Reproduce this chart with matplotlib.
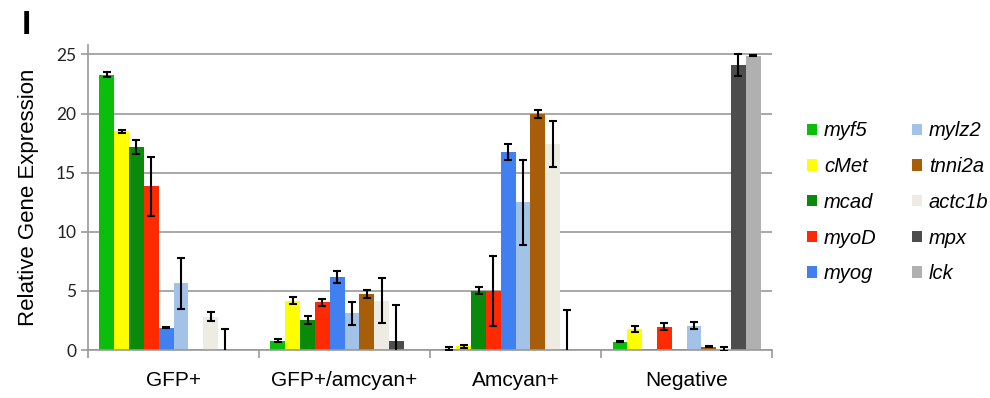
import matplotlib
matplotlib.use('Agg')
import matplotlib.pyplot as plt
import numpy as np

groups = ['GFP+', 'GFP+/amcyan+', 'Amcyan+', 'Negative']
genes = ['myf5', 'cMet', 'mcad', 'myoD', 'myog',
         'mylz2', 'tnni2a', 'actc1b', 'mpx', 'lck']
colors = ['#0ABE0A', '#FFFF00', '#0A8A0A', '#FF2A00', '#4080F0',
          '#A3C2E8', '#A85D08', '#EEEBE3', '#4D4D4D', '#B0B0B0']

# expression per gene, one value per group
means = {
    'myf5':   [23.3, 0.8, 0.1, 0.7],
    'cMet':   [18.5, 4.15, 0.3, 1.8],
    'mcad':   [17.2, 2.55, 5.0, 0.05],
    'myoD':   [13.85, 4.05, 5.0, 1.95],
    'myog':   [1.9, 6.2, 16.75, 0.05],
    'mylz2':  [5.65, 3.1, 12.5, 2.05],
    'tnni2a': [0.0, 4.75, 19.95, 0.28],
    'actc1b': [2.8, 4.15, 17.45, 0.1],
    'mpx':    [0.0, 0.8, 0.0, 24.1],
    'lck':    [0.0, 0.1, 0.0, 24.9],
}
errors = {
    'myf5':   [0.2, 0.1, 0.12, 0.06],
    'cMet':   [0.12, 0.3, 0.15, 0.25],
    'mcad':   [0.6, 0.35, 0.3, 0.0],
    'myoD':   [2.5, 0.3, 2.95, 0.3],
    'myog':   [0.05, 0.5, 0.65, 0.0],
    'mylz2':  [2.15, 1.0, 3.6, 0.3],
    'tnni2a': [0.0, 0.33, 0.35, 0.06],
    'actc1b': [0.38, 1.9, 1.95, 0.15],
    'mpx':    [1.8, 3.0, 3.35, 0.9],
    'lck':    [0.0, 0.0, 0.0, 0.05],
}

fig = plt.figure(figsize=(9.9, 3.98), dpi=100)
ax = fig.add_axes([0.0889, 0.1206, 0.691, 0.7664])

x = np.arange(len(groups))
width = 0.0866
start = -width * len(genes) / 2 + width / 2

for i, gene in enumerate(genes):
    pos = x + start + i * width
    vals = np.array(means[gene])
    errs = np.array(errors[gene])
    ax.bar(pos, vals, width, color=colors[i], label=gene, zorder=2)
    # only draw whiskers where an error was measured
    has_err = errs > 0
    ax.errorbar(pos[has_err], vals[has_err], yerr=errs[has_err], fmt='none',
                ecolor='black', elinewidth=1.5, capsize=3, capthick=1.5,
                zorder=3)

ax.set_xlim(-0.5, len(groups) - 0.5)
ax.set_ylim(0, 25.8)
ax.set_yticks([0, 5, 10, 15, 20, 25])
ax.yaxis.grid(True, color='#999999', linewidth=1.2, zorder=0)
ax.set_axisbelow(True)

ax.set_xticks(x)
ax.set_xticklabels(groups, fontsize=15, family='Liberation Sans')
ax.set_xticks(np.arange(len(groups) + 1) - 0.5, minor=True)
ax.tick_params(axis='x', which='major', length=0, pad=15)
ax.tick_params(axis='x', which='minor', length=6, color='#999999', width=1.2)
ax.tick_params(axis='y', length=5, color='#999999', width=1.2, labelsize=12.5,
               direction='out')
for lbl in ax.get_yticklabels():
    lbl.set_family('Lato')
    lbl.set_color('#222222')

for side in ['top', 'right']:
    ax.spines[side].set_visible(False)
for side in ['left', 'bottom']:
    ax.spines[side].set_color('#999999')
    ax.spines[side].set_linewidth(1.2)

ax.set_ylabel('Relative Gene Expression', fontsize=16,
              family='Liberation Sans', labelpad=12)

fig.text(0.022, 0.915, 'I', fontsize=24, family='Liberation Sans',
         fontweight='bold')

leg = fig.legend(loc='upper left', bbox_to_anchor=(0.815, 0.695), ncol=2,
                 frameon=False, handlelength=0.5, handleheight=0.5,
                 handletextpad=0.35, columnspacing=1.75, labelspacing=0.83,
                 borderpad=0, borderaxespad=0,
                 prop={'family': 'Liberation Sans', 'style': 'italic',
                       'size': 14.5})

fig.savefig('out.png', dpi=100)
